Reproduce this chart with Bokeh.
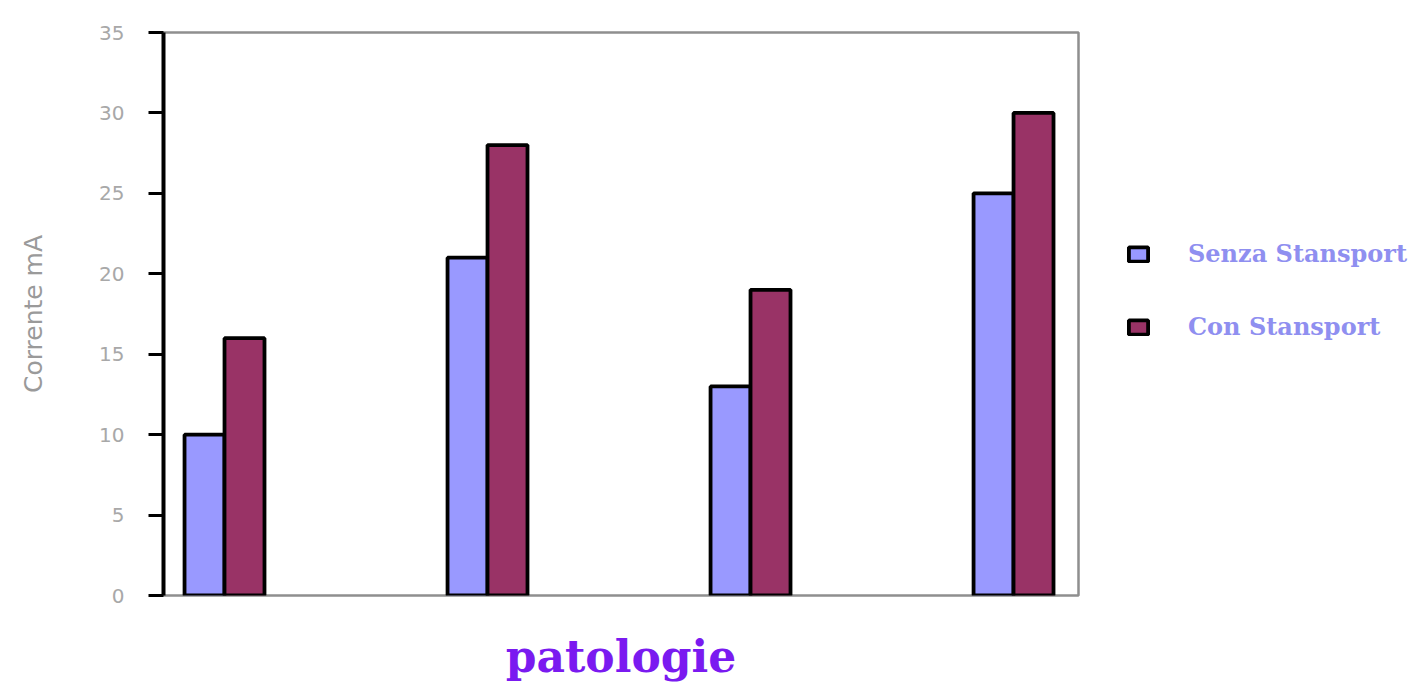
from bokeh.plotting import figure
from bokeh.models import Range1d, Legend, LegendItem, FixedTicker, ColumnDataSource
from bokeh.embed import file_html
from bokeh.resources import INLINE

# Data
categories = ["Patologia 1", "Patologia 2", "Patologia 3", "Patologia 4"]
senza = [10, 21, 13, 25]
con = [16, 28, 19, 30]
y_ticks = [0, 5, 10, 15, 20, 25, 30, 35]
series_names = ["Senza Stansport", "Con Stansport"]

BLUE = "#9999FF"
WINE = "#993366"
BAR_W = 0.152

xs = list(range(len(categories)))
src = ColumnDataSource(dict(
    cat=categories,
    x_senza=[x - BAR_W / 2 for x in xs],
    x_con=[x + BAR_W / 2 for x in xs],
    senza=senza,
    con=con,
))

p = figure(
    frame_width=915, frame_height=563,
    x_range=Range1d(-0.232, 3.247), y_range=Range1d(0, 35),
    output_backend="svg", toolbar_location=None,
    min_border_left=163, min_border_right=0,
    min_border_top=32, min_border_bottom=90,
)
p.background_fill_color = "white"
p.border_fill_color = "white"
p.grid.visible = False
p.outline_line_color = "#8f8f8f"
p.outline_line_width = 2.5

r1 = p.vbar(x="x_senza", top="senza", width=BAR_W, source=src,
            fill_color=BLUE, line_color="black", line_width=3.8)
r2 = p.vbar(x="x_con", top="con", width=BAR_W, source=src,
            fill_color=WINE, line_color="black", line_width=3.8)

# y axis
ya = p.yaxis[0]
ya.ticker = FixedTicker(ticks=y_ticks)
ya.axis_line_color = "black"
ya.axis_line_width = 4
ya.major_tick_line_color = "black"
ya.major_tick_line_width = 3
ya.major_tick_in = 0
ya.major_tick_out = 15
ya.minor_tick_line_color = None
ya.major_label_standoff = 24
ya.major_label_text_font = "DejaVu Sans"
ya.major_label_text_font_size = "20px"
ya.major_label_text_color = "#a8a8a8"
ya.axis_label = "Corrente mA"
ya.axis_label_text_font = "DejaVu Sans"
ya.axis_label_text_font_style = "normal"
ya.axis_label_text_font_size = "25px"
ya.axis_label_text_color = "#9a9a9a"
ya.axis_label_standoff = 48

# x axis: only the title is shown
xa = p.xaxis[0]
xa.ticker = FixedTicker(ticks=[])
xa.axis_line_color = None
xa.major_tick_line_color = None
xa.minor_tick_line_color = None
xa.axis_label = "patologie"
xa.axis_label_text_font = "DejaVu Serif"
xa.axis_label_text_font_style = "bold"
xa.axis_label_text_font_size = "44px"
xa.axis_label_text_color = "#7A1AF0"
xa.axis_label_standoff = 35

legend = Legend(
    items=[LegendItem(label=series_names[0], renderers=[r1]),
           LegendItem(label=series_names[1], renderers=[r2])],
    location=(48, 254),
    border_line_color=None,
    background_fill_alpha=0,
    padding=0, margin=0,
    glyph_width=24, glyph_height=18,
    label_standoff=38,
    label_height=18,
    spacing=44,
    label_text_font="DejaVu Serif",
    label_text_font_style="bold",
    label_text_font_size="24px",
    label_text_color="#8F8FF0",
)
p.add_layout(legend, "right")

open("out.html", "w").write(file_html(p, INLINE))
